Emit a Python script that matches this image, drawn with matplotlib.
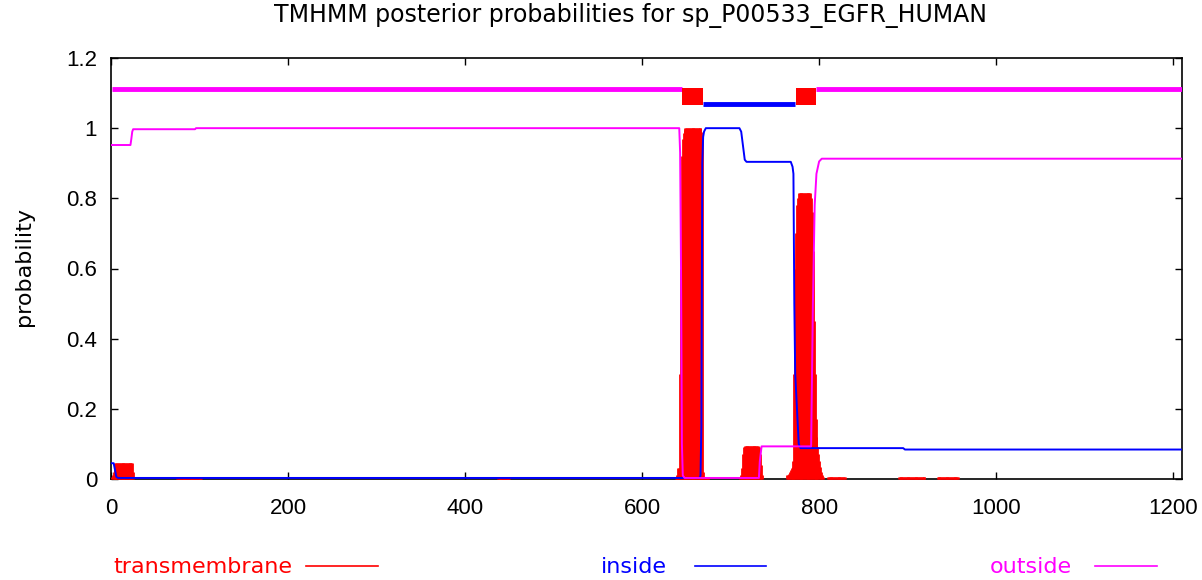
import matplotlib
matplotlib.use("Agg")
import matplotlib.pyplot as plt
from matplotlib.lines import Line2D

plt.rcParams['font.family'] = ['Liberation Sans', 'DejaVu Sans']

seq_len = 1210
title = "TMHMM posterior probabilities for sp_P00533_EGFR_HUMAN"

# transmembrane posterior, per residue (start residue, values)
tm_nterm_start = 1
tm_nterm = [0.005, 0.01, 0.02, 0.03, 0.045, 0.045, 0.045, 0.045, 0.045, 0.045,
            0.045, 0.045, 0.045, 0.045, 0.045, 0.045, 0.045, 0.045, 0.045, 0.045,
            0.045, 0.045, 0.045, 0.045, 0.02]
tm_low1_start = 75
tm_low1 = [0.006] * 28
tm_low2_start = 437
tm_low2 = [0.006] * 14
tm_helix1_start = 638
tm_helix1 = [0.006, 0.006, 0.01, 0.03, 0.03, 0.3, 0.6, 0.92, 0.97, 0.985,
             0.995, 1.0, 1.0, 1.0, 1.0, 1.0, 1.0, 1.0, 1.0, 1.0,
             1.0, 1.0, 1.0, 1.0, 1.0, 1.0, 1.0, 1.0, 1.0, 0.99,
             0.97, 0.02, 0.006, 0.006, 0.006, 0.006, 0.006, 0.006]
tm_bump_start = 711
tm_bump = [0.006, 0.01, 0.03, 0.07, 0.09, 0.095, 0.095, 0.095, 0.095, 0.095,
           0.095, 0.095, 0.095, 0.095, 0.095, 0.095, 0.095, 0.095, 0.095, 0.095,
           0.095, 0.09, 0.07, 0.04, 0.01]
tm_helix2_start = 764
tm_helix2 = [0.01, 0.01, 0.015, 0.02, 0.025, 0.03, 0.035, 0.05, 0.3, 0.6,
             0.7, 0.78, 0.8, 0.815, 0.815, 0.815, 0.815, 0.815, 0.815, 0.815,
             0.815, 0.815, 0.815, 0.815, 0.815, 0.815, 0.815, 0.8, 0.76, 0.65,
             0.45, 0.3, 0.17, 0.12, 0.09, 0.07, 0.05, 0.035, 0.02, 0.01, 0.006]
tm_low3_start = 810
tm_low3 = [0.006] * 20
tm_low4_start = 890
tm_low4 = [0.006] * 30
tm_low5_start = 934
tm_low5 = [0.006] * 24

# inside / outside posterior, breakpoints of the curves
inside_x = [1, 3, 5, 6, 8, 665, 666, 667, 668, 669, 670, 672, 710, 712, 714, 716,
            718, 768, 770, 771, 772, 773, 775, 777, 779, 895, 897, 1210]
inside_y = [0.045, 0.045, 0.02, 0.006, 0.003, 0.003, 0.01, 0.15, 0.9, 0.975, 0.99, 1.0,
            1.0, 0.99, 0.95, 0.91, 0.904, 0.904, 0.89, 0.87, 0.5, 0.3, 0.2, 0.1,
            0.088, 0.088, 0.084, 0.084]
outside_x = [1, 22, 23, 24, 25, 95, 96, 642, 643, 644, 645, 646, 648, 732, 733, 735,
             791, 793, 795, 797, 800, 803, 1210]
outside_y = [0.952, 0.952, 0.97, 0.99, 0.997, 0.997, 1.0, 1.0, 0.93, 0.6, 0.1, 0.01,
             0.003, 0.003, 0.05, 0.093, 0.093, 0.5, 0.78, 0.87, 0.905, 0.913, 0.913]

# predicted topology (top bar)
outside_segs = [(1, 645), (797, 1210)]
inside_segs = [(669, 773)]
tm_segs = [(646, 668), (774, 796)]


def expand(start, vals):
    return list(range(start, start + len(vals))), vals


fig = plt.figure(figsize=(12.02, 5.80), dpi=100)
ax = fig.add_axes([111 / 1202, 1 - 479 / 580, 1071 / 1202, 421 / 580])

for start, vals in [(tm_nterm_start, tm_nterm), (tm_low1_start, tm_low1),
                    (tm_low2_start, tm_low2), (tm_helix1_start, tm_helix1),
                    (tm_bump_start, tm_bump), (tm_helix2_start, tm_helix2),
                    (tm_low3_start, tm_low3), (tm_low4_start, tm_low4),
                    (tm_low5_start, tm_low5)]:
    xs, ys = expand(start, vals)
    ax.vlines(xs, 0, ys, color='#ff0000', lw=2.0, zorder=2.6, clip_on=False)

ax.plot(inside_x, inside_y, color='#0000ff', lw=1.4, zorder=3)
ax.plot(outside_x, outside_y, color='#ff00ff', lw=1.4, zorder=3)

for a, b in outside_segs:
    ax.plot([a, b], [1.111, 1.111], color='#ff00ff', lw=3.5, solid_capstyle='butt', zorder=3)
for a, b in inside_segs:
    ax.plot([a, b], [1.069, 1.069], color='#0000ff', lw=3.5, solid_capstyle='butt', zorder=3)
for a, b in tm_segs:
    ax.fill_between([a - 0.5, b + 0.5], 1.066, 1.114, color='#ff0000', lw=0, zorder=4)

ax.set_xlim(0, seq_len)
ax.set_ylim(0, 1.2)
ax.set_xticks([0, 200, 400, 600, 800, 1000, 1200])
ax.set_yticks([0, 0.2, 0.4, 0.6, 0.8, 1.0, 1.2])
ax.set_yticklabels(['0', '0.2', '0.4', '0.6', '0.8', '1', '1.2'])
ax.tick_params(direction='in', length=5, width=1, labelsize=16, top=True, right=True)
ax.tick_params(axis='x', pad=14)
ax.tick_params(axis='y', pad=10)
for sp in ax.spines.values():
    sp.set_linewidth(1.2)

wide_font = ['DejaVu Sans']
ax.set_ylabel('probability', fontsize=16, family=wide_font)
ax.yaxis.set_label_coords(-0.072, 0.505)
fig.text(631 / 1202, 1 - 16 / 580, title, fontsize=17, family=wide_font,
         ha='center', va='center')

# legend along the bottom
leg_y = 1 - 567 / 580
legend_items = [("transmembrane", '#ff0000', 113, 306, 378),
                ("inside", '#0000ff', 601, 695, 766),
                ("outside", '#ff00ff', 990, 1095, 1157)]
for label, col, tx, l0, l1 in legend_items:
    fig.text(tx / 1202, leg_y, label, color=col, fontsize=16, family=wide_font,
             va='center', ha='left')
    fig.add_artist(Line2D([l0 / 1202, l1 / 1202], [leg_y + 0.002, leg_y + 0.002],
                          color=col, lw=1.2, transform=fig.transFigure))

fig.savefig("out.png", dpi=100)
